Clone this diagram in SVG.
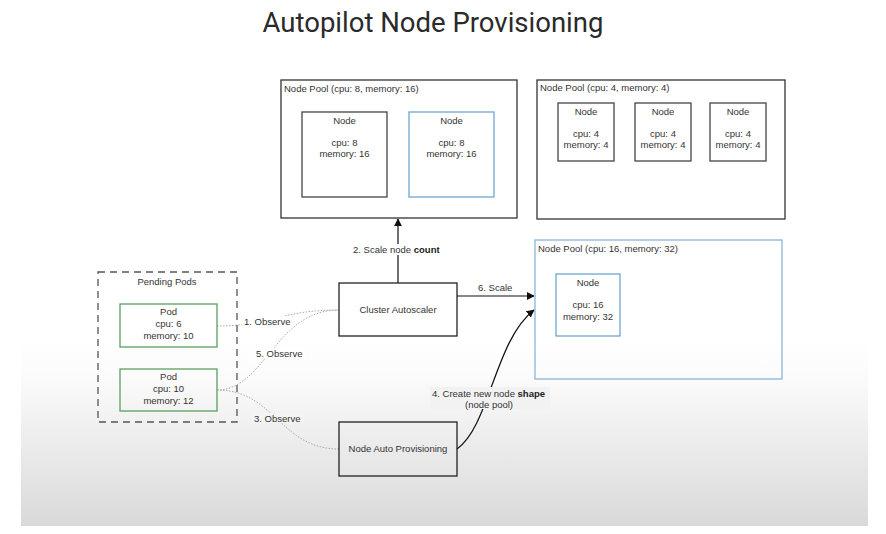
<svg xmlns="http://www.w3.org/2000/svg" width="886" height="534" viewBox="0 0 886 534">
<defs>
<linearGradient id="bg" x1="0" y1="0" x2="0" y2="1">
<stop offset="0" stop-color="#ffffff"/>
<stop offset="0.2" stop-color="#fbfbfb"/>
<stop offset="1" stop-color="#d9d9d9"/>
</linearGradient>
<marker id="ah" viewBox="0 0 10 10" refX="9" refY="5" markerWidth="8" markerHeight="8" markerUnits="userSpaceOnUse" orient="auto">
<path d="M0,0 L10,5 L0,10 z" fill="#111"/>
</marker>
</defs>
<style>
text{font-family:"Liberation Sans",Arial,sans-serif;font-size:9.5px;fill:#333}
.c{text-anchor:middle}
.title{font-family:Roboto,"Open Sans",sans-serif;font-size:27.5px;fill:#2a2a2a;text-anchor:middle}
.pool{fill:none;stroke:#333;stroke-width:1.3}
.bpool{fill:none;stroke:#8bb6d9;stroke-width:1.3}
.node{fill:none;stroke:#444;stroke-width:1.3}
.bnode{fill:none;stroke:#6fa6d2;stroke-width:1.3}
.pod{fill:none;stroke:#5aa05e;stroke-width:1.3}
.dash{fill:none;stroke:#555;stroke-width:1.3;stroke-dasharray:7 5}
.box{fill:none;stroke:#222;stroke-width:1.3}
.arr{fill:none;stroke:#111;stroke-width:1.2}
.obs{fill:none;stroke:#aaa;stroke-width:1;stroke-dasharray:1.5 1.5}
.lbg{fill:#fff}
</style>
<rect x="0" y="0" width="886" height="534" fill="#fff"/>
<rect x="21" y="340" width="847" height="186" fill="url(#bg)"/>
<text class="title" x="433" y="32">Autopilot Node Provisioning</text>

<g id="connectors">
<path class="obs" d="M217,326 C270,326 280,310 339,310"/>
<path class="obs" d="M217,390 C265,390 275,310 339,310"/>
<path class="obs" d="M217,390 C275,390 280,449 339,449"/>
<path class="arr" d="M398,283 L398,219" marker-end="url(#ah)"/>
<path class="arr" d="M457,296 L534,296" marker-end="url(#ah)"/>
<path class="arr" d="M457,449 C490,425 495,340 534,310" marker-end="url(#ah)"/>
<rect class="lbg" x="351" y="244" width="93" height="11"/>
<text x="353" y="253">2. Scale node <tspan font-weight="bold" style="fill:#222">count</tspan></text>
<text x="478" y="291">6. Scale</text>
<rect class="lbg" x="242" y="316" width="50" height="10"/>
<text x="244" y="325">1. Observe</text>
<rect class="lbg" x="255" y="348" width="50" height="10"/>
<text x="256" y="357">5. Observe</text>
<rect x="252" y="413" width="52" height="10" fill="#f4f4f4"/>
<text x="254" y="422">3. Observe</text>
<rect x="430" y="387" width="120" height="22" fill="#f2f2f2"/>
<text x="432" y="397">4. Create new node <tspan font-weight="bold" style="fill:#222">shape</tspan></text>
<text class="c" x="489" y="408">(node pool)</text>
</g>

<g id="pool1">
<rect class="pool" x="281" y="80" width="236" height="138"/>
<text x="284" y="92">Node Pool (cpu: 8, memory: 16)</text>
</g>
<g id="pool1-node1">
<rect class="node" x="302" y="112" width="85" height="85"/>
<text class="c" x="344.5" y="124">Node</text>
<text class="c" x="344.5" y="146">cpu: 8</text>
<text class="c" x="344.5" y="157">memory: 16</text>
</g>
<g id="pool1-node2">
<rect class="bnode" x="409" y="112" width="85" height="85"/>
<text class="c" x="451.5" y="124">Node</text>
<text class="c" x="451.5" y="146">cpu: 8</text>
<text class="c" x="451.5" y="157">memory: 16</text>
</g>

<g id="pool2">
<rect class="pool" x="537" y="80" width="248" height="139"/>
<text x="540" y="91">Node Pool (cpu: 4, memory: 4)</text>
</g>
<g id="pool2-node1">
<rect class="node" x="558" y="103" width="56" height="58"/>
<text class="c" x="586" y="115">Node</text>
<text class="c" x="586" y="137">cpu: 4</text>
<text class="c" x="586" y="148">memory: 4</text>
</g>
<g id="pool2-node2">
<rect class="node" x="635" y="103" width="56" height="58"/>
<text class="c" x="663" y="115">Node</text>
<text class="c" x="663" y="137">cpu: 4</text>
<text class="c" x="663" y="148">memory: 4</text>
</g>
<g id="pool2-node3">
<rect class="node" x="710" y="103" width="56" height="58"/>
<text class="c" x="738" y="115">Node</text>
<text class="c" x="738" y="137">cpu: 4</text>
<text class="c" x="738" y="148">memory: 4</text>
</g>

<g id="pool3">
<rect class="bpool" x="535" y="240" width="247" height="139"/>
<text x="538" y="252">Node Pool (cpu: 16, memory: 32)</text>
</g>
<g id="pool3-node1">
<rect class="bnode" x="556" y="274" width="64" height="62"/>
<text class="c" x="588" y="286">Node</text>
<text class="c" x="588" y="308">cpu: 16</text>
<text class="c" x="588" y="320">memory: 32</text>
</g>

<g id="pending-pods">
<rect class="dash" x="98" y="272" width="139" height="150"/>
<text class="c" x="167" y="285">Pending Pods</text>
</g>
<g id="pod1">
<rect class="pod" x="120" y="304" width="97" height="43"/>
<text class="c" x="168.5" y="315">Pod</text>
<text class="c" x="168.5" y="327">cpu: 6</text>
<text class="c" x="168.5" y="339">memory: 10</text>
</g>
<g id="pod2">
<rect class="pod" x="120" y="369" width="97" height="42"/>
<text class="c" x="168.5" y="380">Pod</text>
<text class="c" x="168.5" y="392">cpu: 10</text>
<text class="c" x="168.5" y="404">memory: 12</text>
</g>

<g id="cluster-autoscaler">
<rect class="box" x="339" y="283" width="118" height="53"/>
<text class="c" x="398" y="313">Cluster Autoscaler</text>
</g>
<g id="node-auto-provisioning">
<rect class="box" x="339" y="422" width="118" height="54"/>
<text class="c" x="398" y="452">Node Auto Provisioning</text>
</g>
</svg>
